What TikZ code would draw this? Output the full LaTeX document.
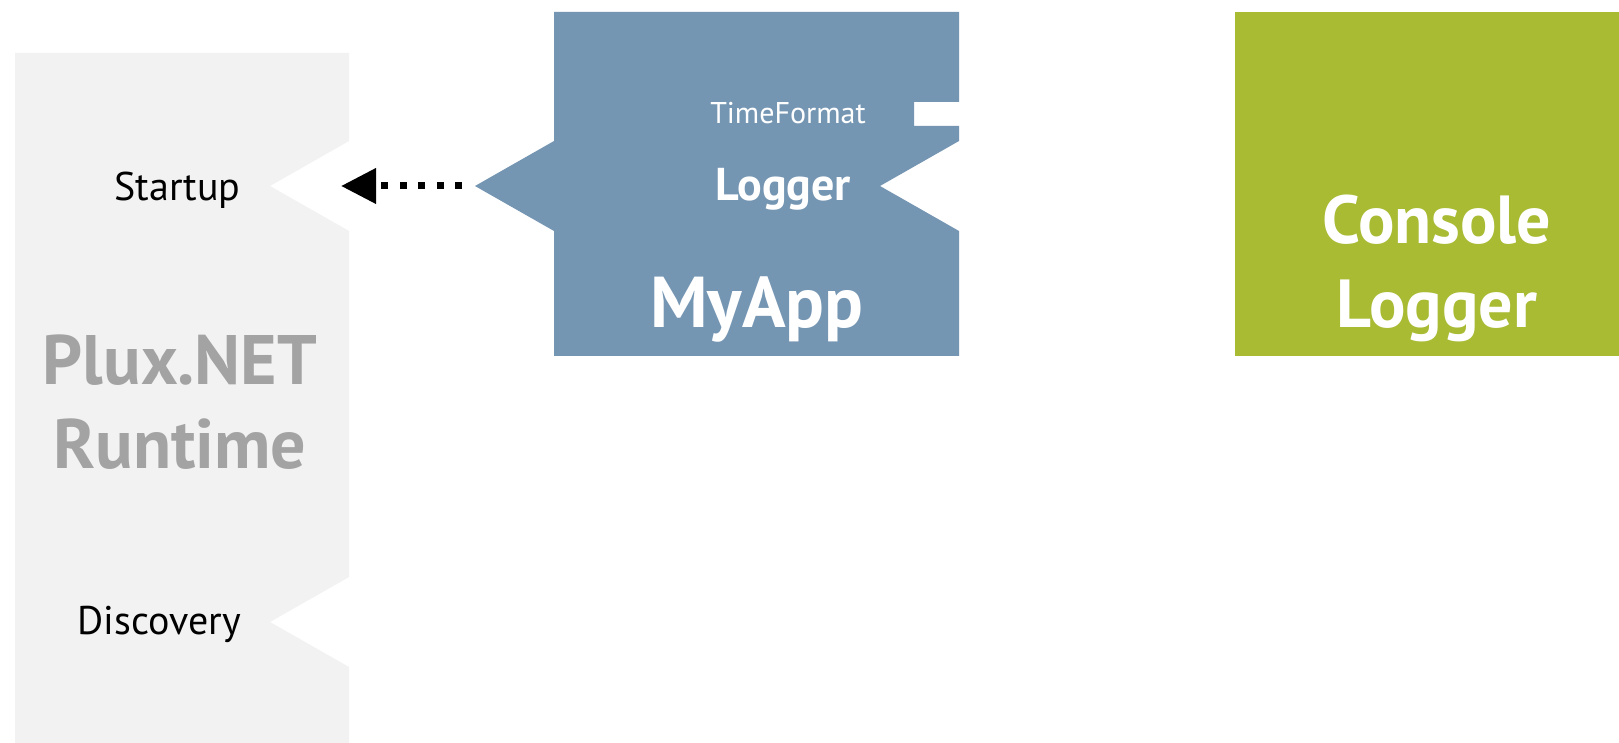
\documentclass[tikz,border=0pt]{standalone}
\usepackage{fontspec}
\setmainfont{PT Sans}
\usetikzlibrary{calc,arrows.meta}
\definecolor{appblue}{HTML}{7596B3}
\definecolor{loggreen}{HTML}{A9BA33}
\definecolor{rtgray}{HTML}{F2F2F2}
\def\sloth{45}
\def\slotd{79}

\begin{document}
\begin{tikzpicture}[x=0.5pt, y=-0.5pt, line join = miter,
		slotlabel/.style = {font=\fontsize{20}{24}\selectfont, inner sep=0pt, anchor=base east},
		whitelabel/.style = {text=white, inner sep=0pt, anchor=base},
		bigname/.style = {font=\fontsize{34}{42}\bfseries\selectfont, align=center, inner sep=0pt},
		dotarrow/.style = {line width=3.5pt, dash pattern=on 3.5pt off 5.75pt,
			-{Triangle[length=17.5pt,width=17pt]}, shorten <=6.5pt, shorten >=35.5pt}]
		\path[use as bounding box, fill=white] (0,0) rectangle (1619,743);
		
		% Coordinates
		\coordinate (startup-slot) at (270,186);
		\coordinate (discovery-slot) at (270,622);
		\coordinate (logger-plug) at (475,186);
		\coordinate (logger-slot) at (880,186);
		
		% Plux.NET Runtime
		\fill[rtgray] (15,53) -- (349,53)
			-- ($(startup-slot) + (\slotd,-\sloth)$) -- (startup-slot) -- ($(startup-slot) + (\slotd,\sloth)$)
			-- ($(discovery-slot) + (\slotd,-\sloth)$) -- (discovery-slot) -- ($(discovery-slot) + (\slotd,\sloth)$)
			-- (349,743) -- (15,743) -- cycle;
		
		% MyApp
		\fill[appblue] (554,12) -- (959,12) -- (959,102) -- (914,102) -- (914,126) -- (959,126)
			-- ($(logger-slot) + (\slotd,-\sloth)$) -- (logger-slot) -- ($(logger-slot) + (\slotd,\sloth)$)
			-- (959,356) -- (554,356)
			-- ($(logger-plug) + (\slotd,\sloth)$) -- (logger-plug) -- ($(logger-plug) + (\slotd,-\sloth)$)
			-- cycle;
		
		% Console Logger
		\fill[loggreen] (1235,12) rectangle (1619,356);
		
		% Nodes
		\node[slotlabel] (startup) at (241,201) {Startup};
		\node[slotlabel] (discovery) at (241,634) {Discovery};
		\node[bigname, font=\fontsize{35}{42}\bfseries\selectfont, text=black!36] (runtime) at (180,402) {Plux.NET\\Runtime};
		\node[whitelabel, font=\fontsize{15}{18}\selectfont] (timeformat) at (788,124) {TimeFormat};
		\node[whitelabel, font=\fontsize{23}{26}\bfseries\selectfont] (logger) at (783,201) {Logger};
		\node[whitelabel, font=\fontsize{36}{40}\bfseries\selectfont] (myapp) at (757,328) {MyApp};
		\node[bigname, text=white] (console) at (1437,268) {Console\\Logger};
		
		% Logger -> Startup
		\draw[dotarrow] (logger-plug) -- (startup-slot);
	\end{tikzpicture}
\end{document}
